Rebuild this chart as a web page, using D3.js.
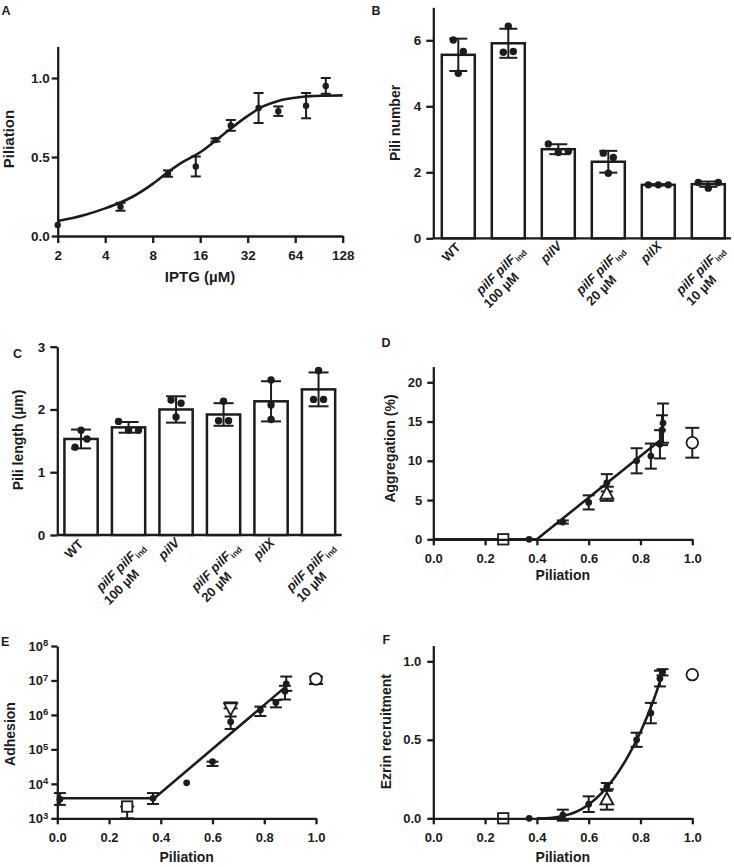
<!DOCTYPE html>
<html><head><meta charset="utf-8">
<script src="https://cdn.jsdelivr.net/npm/d3@7"></script>
<style>
body{margin:0;background:#fff;}
</style></head><body>
<svg id="c" width="734" height="867" xmlns="http://www.w3.org/2000/svg"></svg>
<script>
// ---------------- DATA ----------------
// Panel A: piliation vs IPTG
const iptgConc = [2, 5, 10, 15, 20, 25, 37.5, 50, 75, 100];
const piliationMean = [0.07, 0.185, 0.395, 0.44, 0.608, 0.70, 0.81, 0.79, 0.825, 0.95];
const piliationErr = [0, 0.025, 0.02, 0.063, 0.01, 0.034, 0.095, 0.03, 0.08, 0.05];
const fitAX = [2, 3, 4, 5, 6, 8, 10, 12, 16, 20, 25, 32, 40, 50, 64, 80, 100, 128];
const fitAY = [0.095, 0.135, 0.175, 0.212, 0.25, 0.33, 0.405, 0.46, 0.53, 0.603, 0.68, 0.76, 0.82, 0.855, 0.875, 0.885, 0.888, 0.89];
const iptgTicks = [2, 4, 8, 16, 32, 64, 128];

// Panels B, C: strains
const strainLine1 = ["WT", "pilF pilF", "pilV", "pilF pilF", "pilX", "pilF pilF"];
const strainSub = ["", "ind", "", "ind", "", "ind"];
const strainLine2 = ["", "100 µM", "", "20 µM", "", "10 µM"];
const strainItalic = [false, true, true, true, true, true];

const piliNumber = [5.56, 5.91, 2.70, 2.32, 1.62, 1.64];
const piliNumberSD = [0.49, 0.44, 0.15, 0.33, 0.02, 0.08];
const piliNumberReps = [[6.01, 5.66, 5.0], [6.43, 5.64, 5.66], [2.86, 2.6, 2.63], [2.58, 2.45, 1.97], [1.62, 1.62, 1.62], [1.69, 1.52, 1.69]];

const piliLength = [1.53, 1.715, 2.0, 1.92, 2.13, 2.32];
const piliLengthSD = [0.15, 0.085, 0.21, 0.18, 0.32, 0.27];
const piliLengthReps = [[1.40, 1.67, 1.53], [1.81, 1.67, 1.67], [2.15, 2.10, 1.88], [2.13, 1.82, 1.82], [2.47, 2.07, 1.84], [2.62, 2.16, 2.16]];

// Panel D: aggregation vs piliation
const dPil = [0.37, 0.5, 0.6, 0.67, 0.785, 0.84, 0.875, 0.883, 0.887];
const dAgg = [0, 2.2, 4.7, 7.2, 10.0, 10.6, 12.1, 13.9, 14.8];
const dAggErr = [0, 0.2, 0.9, 1.1, 1.6, 1.6, 1.8, 1.9, 2.5];
const dOpenPil = [0.27, 0.67, 1.0];
const dOpenAgg = [0, 5.8, 12.3];
const dOpenErr = [0, 0.9, 1.9];
const dOpenShape = ["square", "triUp", "circle"];
const dFitX = [0, 0.4, 0.875];
const dFitY = [0, 0, 12.6];

// Panel E: adhesion vs piliation (log)
const ePil = [0.01, 0.37, 0.5, 0.6, 0.67, 0.785, 0.845, 0.88, 0.885];
const eAdh = [3.6e3, 3.8e3, 1.07e4, 4.4e4, 6.3e5, 1.4e6, 2.3e6, 4.9e6, 8.0e6];
const eLow = [2.45e3, 2.6e3, 1.07e4, 3.3e4, 3.9e5, 9.3e5, 1.66e6, 2.8e6, 5.0e6];
const eHigh = [5.4e3, 5.4e3, 1.07e4, 4.4e4, 9.0e5, 1.74e6, 2.7e6, 7.0e6, 1.3e7];
const eOpenPil = [0.27, 0.67, 1.0];
const eOpenAdh = [2.2e3, 1.55e6, 1.1e7];
const eOpenLow = [1.0e3, 1.55e6, 7.9e6];
const eOpenHigh = [2.2e3, 2.3e6, 1.29e7];
const eOpenShape = ["square", "triDown", "circle"];
const eFitX = [0, 0.375, 0.88];
const eFitY = [3.8e3, 3.8e3, 6.3e6];

// Panel F: ezrin recruitment vs piliation
const fPil = [0.37, 0.5, 0.6, 0.67, 0.785, 0.84, 0.875, 0.885];
const fEz = [0, 0.02, 0.09, 0.20, 0.50, 0.67, 0.89, 0.93];
const fErr = [0, 0.035, 0.05, 0.025, 0.045, 0.065, 0.05, 0.02];
const fOpenPil = [0.27, 0.67, 1.0];
const fOpenEz = [0, 0.12, 0.915];
const fOpenErr = [0, 0.065, 0];
const fOpenShape = ["square", "triUp", "circle"];
const fFitX = [0.4, 0.45, 0.5, 0.55, 0.6, 0.65, 0.7, 0.75, 0.8, 0.85, 0.885];
const fFitY = [0, 0.002, 0.014, 0.04, 0.088, 0.16, 0.26, 0.39, 0.55, 0.75, 0.92];

const piliationTicks = [0, 0.2, 0.4, 0.6, 0.8, 1.0];

// ---------------- DRAWING ----------------
const FONT = '"Liberation Sans", Arial, Helvetica, sans-serif';
const INK = "#1c1c1c";
const svg = d3.select("#c");

function styleAxis(g, fs) {
  g.attr("font-family", FONT).attr("font-size", fs).attr("font-weight", "bold");
  g.select(".domain").attr("stroke", INK).attr("stroke-width", 2.3);
  g.selectAll(".tick line").attr("stroke", INK).attr("stroke-width", 2.3);
  g.selectAll(".tick text").attr("fill", INK);
}
function label(x, y, str, fs, rot, anchor) {
  const t = svg.append("text").attr("font-family", FONT).attr("font-weight", "bold")
    .attr("font-size", fs).attr("fill", INK).attr("text-anchor", anchor || "middle")
    .attr("transform", `translate(${x},${y})` + (rot ? ` rotate(${rot})` : ""))
    .text(str);
  return t;
}
function errBar(g, x, ya, yb, cap, w) {
  g.append("line").attr("x1", x).attr("x2", x).attr("y1", ya).attr("y2", yb)
    .attr("stroke", INK).attr("stroke-width", w || 2);
  [ya, yb].forEach(y => g.append("line").attr("x1", x - cap / 2).attr("x2", x + cap / 2)
    .attr("y1", y).attr("y2", y).attr("stroke", INK).attr("stroke-width", w || 2));
}
function symbol(g, shape, cx, cy) {
  const s = { fill: "#fff", stroke: INK, "stroke-width": 1.8 };
  let el;
  if (shape === "square") el = g.append("rect").attr("x", cx - 5.2).attr("y", cy - 5.2).attr("width", 10.4).attr("height", 10.4);
  else if (shape === "circle") el = g.append("circle").attr("cx", cx).attr("cy", cy).attr("r", 5.8);
  else if (shape === "triUp") el = g.append("path").attr("d", `M${cx},${cy - 7}L${cx + 6.5},${cy + 5}L${cx - 6.5},${cy + 5}Z`);
  else el = g.append("path").attr("d", `M${cx},${cy + 7}L${cx + 6.5},${cy - 5}L${cx - 6.5},${cy - 5}Z`);
  Object.entries(s).forEach(([k, v]) => el.attr(k, v));
}

// Panel letters
[["A", 1.5, 14.5], ["B", 371.5, 15], ["C", 13, 358], ["D", 381.5, 346.5], ["E", 1, 646], ["F", 382.5, 644]]
  .forEach(([t, x, y]) => label(x, y, t, 12.5, 0, "start"));

// ===== Panel A =====
{
  const x = d3.scaleLog().base(2).domain([2, 128]).range([57.7, 342.7]);
  const y = d3.scaleLinear().domain([0, 1.2]).range([236, 46.4]);
  const g = svg.append("g");
  const line = d3.line().x((d, i) => x(fitAX[i])).y((d, i) => y(fitAY[i])).curve(d3.curveMonotoneX);
  g.append("path").attr("d", line(fitAX)).attr("fill", "none").attr("stroke", INK).attr("stroke-width", 2.6);
  iptgConc.forEach((c, i) => {
    if (piliationErr[i] > 0) errBar(g, x(c), y(piliationMean[i] - piliationErr[i]), y(piliationMean[i] + piliationErr[i]), 10, 2);
    g.append("circle").attr("cx", x(c)).attr("cy", y(piliationMean[i])).attr("r", 3.2).attr("fill", INK);
  });
  const gx = svg.append("g").attr("transform", "translate(0,236)")
    .call(d3.axisBottom(x).tickValues(iptgTicks).tickFormat(d3.format("d")).tickSize(7).tickPadding(7).tickSizeOuter(0));
  styleAxis(gx, 13.5);
  const gy = svg.append("g").attr("transform", "translate(57.7,0)")
    .call(d3.axisLeft(y).tickValues([0, 0.5, 1.0]).tickFormat(d3.format(".1f")).tickSize(6).tickPadding(2).tickSizeOuter(0));
  styleAxis(gy, 13.5);
  label(200, 282, "IPTG (µM)", 15, 0);
  label(13.7, 139, "Piliation", 15, -90);
}

// ===== Bar panels =====
function jitter(vals, y) {
  const py = vals.map(v => y(v)), n = vals.length, thr = 13;
  const par = vals.map((_, i) => i);
  const find = i => par[i] === i ? i : (par[i] = find(par[i]));
  const near = (i, j) => Math.abs(py[i] - py[j]) < thr;
  for (let i = 0; i < n; i++) for (let j = i + 1; j < n; j++) if (near(i, j)) par[find(i)] = find(j);
  const groups = {};
  vals.forEach((_, i) => { const r = find(i); (groups[r] = groups[r] || []).push(i); });
  const off = new Array(n).fill(0);
  Object.values(groups).forEach(m => {
    if (m.length === 2) { off[m[0]] = -5; off[m[1]] = 5; }
    else if (m.length === 3) {
      const full = near(m[0], m[1]) && near(m[1], m[2]) && near(m[0], m[2]);
      const st = full ? 10 : 6;
      off[m[0]] = -st; off[m[1]] = 0; off[m[2]] = st;
    }
  });
  return off;
}
function barPanel(cfg) {
  const { means, sds, reps, xr, y0, yTop, ymax, ticks, ylab, ylx, yly, tickPad, axisEnd } = cfg;
  const x = d3.scaleBand().domain(d3.range(means.length)).range(xr).paddingInner(cfg.pad).paddingOuter(cfg.pad / 2);
  const y = d3.scaleLinear().domain([0, ymax]).range([y0, yTop]);
  const g = svg.append("g");
  g.append("line").attr("x1", xr[0]).attr("x2", axisEnd).attr("y1", y0).attr("y2", y0).attr("stroke", INK).attr("stroke-width", 2.3);
  means.forEach((m, i) => {
    const bx = x(i), bw = x.bandwidth(), cx = bx + bw / 2;
    g.append("rect").attr("x", bx).attr("y", y(m)).attr("width", bw).attr("height", y(0) - y(m))
      .attr("fill", "#fff").attr("stroke", INK).attr("stroke-width", 2.5);
    errBar(g, cx, y(m - sds[i]), y(m + sds[i]), cfg.cap, 2);
    const off = jitter(reps[i], y);
    reps[i].forEach((v, k) => g.append("circle").attr("cx", cx + off[k]).attr("cy", y(v)).attr("r", 3.7).attr("fill", INK));
    const lt = svg.append("text").attr("font-family", FONT).attr("font-weight", "bold").attr("font-size", 13)
      .attr("fill", INK).attr("text-anchor", "middle");
    if (strainLine2[i]) {
      lt.attr("transform", `translate(${cx - 5},${y0 + 35}) rotate(-45)`);
      lt.append("tspan").attr("font-style", "italic").text(strainLine1[i]);
      lt.append("tspan").attr("font-size", 8.5).attr("dy", 3).text(strainSub[i]);
      label(cx - 4, y0 + 55, strainLine2[i], 13, -45);
    } else {
      lt.attr("transform", `translate(${cx - 4},${y0 + 17}) rotate(-45)`)
        .attr("font-style", strainItalic[i] ? "italic" : "normal").text(strainLine1[i]);
    }
  });
  const gy = svg.append("g").attr("transform", `translate(${xr[0]},0)`)
    .call(d3.axisLeft(y).tickValues(ticks).tickFormat(d3.format("d")).tickSize(7).tickPadding(tickPad).tickSizeOuter(0));
  styleAxis(gy, 13.5);
  label(ylx, yly, ylab, 14, -90);
}
barPanel({ means: piliNumber, sds: piliNumberSD, reps: piliNumberReps, xr: [433.3, 733.3], pad: 0.34, y0: 238.3, yTop: 7.3, ymax: 7,
  ticks: [0, 2, 4, 6], ylab: "Pili number", ylx: 400, yly: 123, tickPad: 5, cap: 18, axisEnd: 731 });
barPanel({ means: piliLength, sds: piliLengthSD, reps: piliLengthReps, xr: [57.3, 342.3], pad: 0.3, y0: 535, yTop: 346.7, ymax: 3,
  ticks: [0, 1, 2, 3], ylab: "Pili length (µm)", ylx: 23.3, yly: 440, tickPad: 5, cap: 20, axisEnd: 341.7 });

// ===== Scatter panels =====
function scatterPanel(cfg) {
  const { x, y, y0, ylab, ylx, yly, xlab_y } = cfg;
  const g = svg.append("g");
  const line = d3.line().x(d => x(d[0])).y(d => y(d[1])).curve(cfg.curve || d3.curveLinear);
  g.append("path").attr("d", line(cfg.fit)).attr("fill", "none").attr("stroke", INK).attr("stroke-width", 2.6);
  cfg.pts.forEach(p => {
    if (p.lo !== p.hi) errBar(g, x(p.x), y(p.lo), y(p.hi), p.open ? 14 : 12, 2);
  });
  cfg.pts.forEach(p => {
    if (p.open) symbol(g, p.shape, x(p.x), y(p.y));
    else g.append("circle").attr("cx", x(p.x)).attr("cy", y(p.y)).attr("r", 3.4).attr("fill", INK);
  });
  const gx = svg.append("g").attr("transform", `translate(0,${y0})`)
    .call(d3.axisBottom(x).tickValues(piliationTicks).tickFormat(d3.format(".1f")).tickSize(6).tickPadding(8).tickSizeOuter(0));
  styleAxis(gx, 13);
  const gy = svg.append("g").attr("transform", `translate(${x.range()[0]},0)`).call(cfg.yAxis);
  styleAxis(gy, 13);
  if (cfg.after) cfg.after(gy);
  label((x.range()[0] + x.range()[1]) / 2, xlab_y, "Piliation", 14, 0);
  label(ylx, yly, ylab, 14, -90);
}

{ // D
  const x = d3.scaleLinear().domain([0, 1]).range([433.3, 692.3]);
  const y = d3.scaleLinear().domain([0, 22]).range([539.3, 366.6]);
  const pts = dPil.map((p, i) => ({ x: p, y: dAgg[i], lo: dAgg[i] - dAggErr[i], hi: dAgg[i] + dAggErr[i] }))
    .concat(dOpenPil.map((p, i) => ({ x: p, y: dOpenAgg[i], lo: dOpenAgg[i] - dOpenErr[i], hi: dOpenAgg[i] + dOpenErr[i], open: true, shape: dOpenShape[i] })));
  scatterPanel({ x, y, y0: 539.3, pts, fit: dFitX.map((v, i) => [v, dFitY[i]]),
    yAxis: d3.axisLeft(y).tickValues([0, 5, 10, 15, 20]).tickSize(6).tickPadding(5).tickSizeOuter(0),
    ylab: "Aggregation (%)", ylx: 395, yly: 448.5, xlab_y: 580 });
}
{ // E
  const x = d3.scaleLinear().domain([0, 1]).range([57.3, 316]);
  const y = d3.scaleLog().domain([1e3, 1e8]).range([818.3, 646]);
  const pts = ePil.map((p, i) => ({ x: p, y: eAdh[i], lo: eLow[i], hi: eHigh[i] }))
    .concat(eOpenPil.map((p, i) => ({ x: p, y: eOpenAdh[i], lo: eOpenLow[i], hi: eOpenHigh[i], open: true, shape: eOpenShape[i] })));
  scatterPanel({ x, y, y0: 818.3, pts, fit: eFitX.map((v, i) => [v, eFitY[i]]),
    yAxis: d3.axisLeft(y).tickValues([1e3, 1e4, 1e5, 1e6, 1e7, 1e8]).tickFormat(() => "").tickSize(6).tickPadding(3).tickSizeOuter(0),
    after: gy => gy.selectAll(".tick text").each(function (d) {
      const t = d3.select(this);
      t.append("tspan").text("10");
      t.append("tspan").attr("dy", "-0.45em").attr("font-size", 9.5).text(Math.round(Math.log10(d)));
    }),
    ylab: "Adhesion", ylx: 15, yly: 734, xlab_y: 862 });
}
{ // F
  const x = d3.scaleLinear().domain([0, 1]).range([433.3, 692.3]);
  const y = d3.scaleLinear().domain([0, 1.1]).range([818.3, 645.6]);
  const pts = fPil.map((p, i) => ({ x: p, y: fEz[i], lo: fEz[i] - fErr[i], hi: fEz[i] + fErr[i] }))
    .concat(fOpenPil.map((p, i) => ({ x: p, y: fOpenEz[i], lo: fOpenEz[i] - fOpenErr[i], hi: fOpenEz[i] + fOpenErr[i], open: true, shape: fOpenShape[i] })));
  scatterPanel({ x, y, y0: 818.3, pts, fit: fFitX.map((v, i) => [v, fFitY[i]]), curve: d3.curveMonotoneX,
    yAxis: d3.axisLeft(y).tickValues([0, 0.5, 1.0]).tickFormat(d3.format(".1f")).tickSize(6).tickPadding(6).tickSizeOuter(0),
    ylab: "Ezrin recruitment", ylx: 391, yly: 731.7, xlab_y: 862 });
}
</script>
</body></html>
